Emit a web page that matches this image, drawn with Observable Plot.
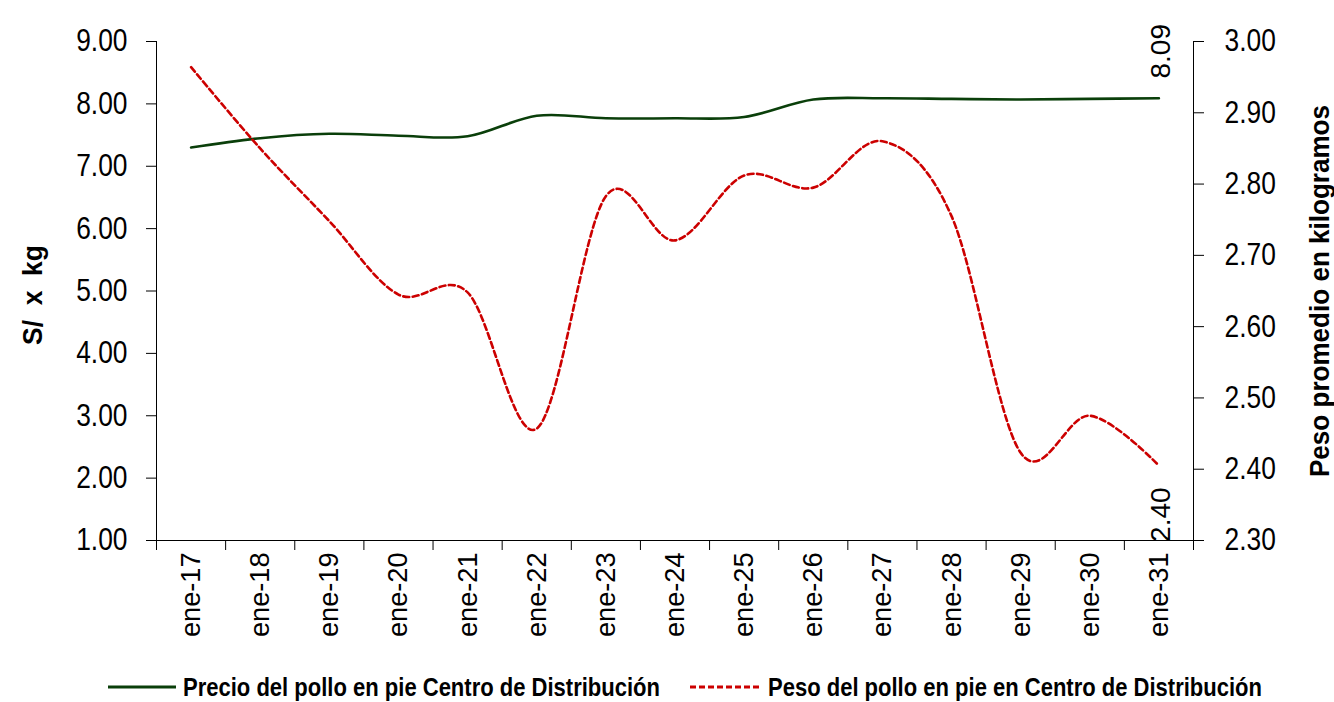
<!DOCTYPE html>
<html><head><meta charset="utf-8">
<script src="https://cdn.jsdelivr.net/npm/d3@7"></script>
<script src="https://cdn.jsdelivr.net/npm/@observablehq/plot@0.6"></script>
<style>
body{margin:0;background:#fff;font-family:"Liberation Sans Narrow","Arial Narrow","Liberation Sans",sans-serif;}
#wrap{position:relative;width:1334px;height:702px;}
#legend{position:absolute;left:0;top:666px;width:1334px;height:42px;font-weight:bold;font-size:25px;color:#000;}
#legend .it{position:absolute;top:0;height:42px;display:flex;align-items:center;white-space:nowrap;transform-origin:left center;}
</style></head><body>
<div id="wrap"><div id="chart"></div><div id="legend"></div></div>
<script>
const categories = ["ene-17","ene-18","ene-19","ene-20","ene-21","ene-22","ene-23","ene-24","ene-25","ene-26","ene-27","ene-28","ene-29","ene-30","ene-31"];
const precio = [7.30,7.45,7.52,7.49,7.48,7.81,7.77,7.77,7.79,8.07,8.09,8.08,8.07,8.08,8.09];
const peso = [2.964,2.850,2.748,2.645,2.648,2.457,2.783,2.721,2.812,2.795,2.860,2.755,2.423,2.475,2.405];
const leftTicks = [1,2,3,4,5,6,7,8,9];
const rightTicks = [2.3,2.4,2.5,2.6,2.7,2.8,2.9,3.0];
const seriesNames = ["Precio del pollo en pie Centro de Distribución","Peso del pollo en pie en Centro de Distribución"];
const yTitleLeft = "S/  x  kg";
const yTitleRight = "Peso promedio en kilogramos";

const GREEN = "#0a3f0a", RED = "#cc0000";
const rMin = 2.3, rMax = 3.0, lMin = 1, lMax = 9;
const toLeft = w => lMin + (w - rMin) / (rMax - rMin) * (lMax - lMin);
const fromLeft = v => rMin + (v - lMin) / (lMax - lMin) * (rMax - rMin);

const data = categories.map((c, i) => ({i: i + 0.5, c, precio: precio[i], peso: peso[i], pesoL: toLeft(peso[i])}));
const last = data[data.length - 1];
const font = '"Liberation Sans Narrow","Arial Narrow","Liberation Sans",sans-serif';

const chart = Plot.plot({
  width: 1334, height: 660,
  marginTop: 41, marginBottom: 120, marginLeft: 156, marginRight: 141,
  x: {domain: [0, categories.length]},
  y: {domain: [lMin, lMax]},
  style: {fontFamily: font, color: "#000", background: "#fff"},
  marks: [
    Plot.axisY({ticks: leftTicks, tickFormat: d => d.toFixed(2), tickSize: 10, tickPadding: 19, fontSize: 31, label: null}),
    Plot.axisY({anchor: "right", ticks: rightTicks.map(toLeft), tickFormat: d => fromLeft(d).toFixed(2), tickSize: 10, tickPadding: 21, fontSize: 31, textAnchor: "start", label: null}),
    Plot.axisX({ticks: d3.range(categories.length + 1), tickFormat: () => "", tickSize: 10, label: null}),
    Plot.axisX({ticks: data.map(d => d.i), tickFormat: d => categories[Math.floor(d)], tickSize: 0, tickPadding: 12, tickRotate: -90, fontSize: 28, label: null}),
    Plot.ruleY([lMin], {stroke: "#000"}),
    Plot.ruleX([0, categories.length], {stroke: "#000"}),
    Plot.line(data, {x: "i", y: "precio", stroke: GREEN, strokeWidth: 2.6, curve: "cardinal"}),
    Plot.line(data, {x: "i", y: "pesoL", stroke: RED, strokeWidth: 2.6, strokeDasharray: "6,3.5", curve: "cardinal"}),
    Plot.text([last], {x: "i", y: "precio", text: d => d.precio.toFixed(2), rotate: -90, dy: -47, dx: 2, fontSize: 28, fill: "#000"}),
    Plot.text([last], {x: "i", y: "pesoL", text: d => d.peso.toFixed(2), rotate: -90, dy: 49, dx: 2, fontSize: 28, fill: "#000"}),
    Plot.text([yTitleLeft], {frameAnchor: "left", dx: -123, dy: 4, rotate: -90, textAnchor: "middle", fontSize: 27, fontWeight: "bold", fill: "#000"}),
    Plot.text([yTitleRight], {frameAnchor: "right", dx: 127, rotate: -90, textAnchor: "middle", fontSize: 28, fontWeight: "bold", fill: "#000"})
  ]
});
document.getElementById("chart").appendChild(chart);

// emulate the narrow typeface of the original by compressing glyphs
const fit = (t, len) => { t.setAttribute("textLength", len); t.setAttribute("lengthAdjust", "spacingAndGlyphs"); };
chart.querySelectorAll("text").forEach(t => {
  const s = t.textContent;
  const tr = (t.getAttribute("transform") || "") + (t.parentNode.getAttribute("transform") || "");
  const rotated = /rotate/.test(tr);
  const len = t.getComputedTextLength();
  if (s === yTitleLeft) fit(t, 100);
  else if (s === yTitleRight) fit(t, 372);
  else if (!rotated && /^\d\.\d\d$/.test(s)) fit(t, len * 0.85);
  else if (rotated && /^ene/.test(s)) fit(t, len * 0.97);
});

const legend = document.getElementById("legend");
const items = [
  {name: seriesNames[0], color: GREEN, dash: null, lx: 108, lw: 68, tx: 183, tw: 477},
  {name: seriesNames[1], color: RED, dash: "6,3", lx: 690, lw: 72, tx: 768, tw: 494}
];
items.forEach(it => {
  const sw = document.createElement("div");
  sw.className = "it"; sw.style.left = it.lx + "px";
  sw.innerHTML = `<svg width="${it.lw}" height="10"><line x1="0" x2="${it.lw}" y1="5" y2="5" stroke="${it.color}" stroke-width="3" ${it.dash ? `stroke-dasharray="${it.dash}"` : ""}/></svg>`;
  legend.appendChild(sw);
  const tx = document.createElement("div");
  tx.className = "it"; tx.style.left = it.tx + "px";
  tx.textContent = it.name;
  legend.appendChild(tx);
  const w = tx.getBoundingClientRect().width;
  tx.style.transform = `scaleX(${it.tw / w})`;
});
</script>
</body></html>
